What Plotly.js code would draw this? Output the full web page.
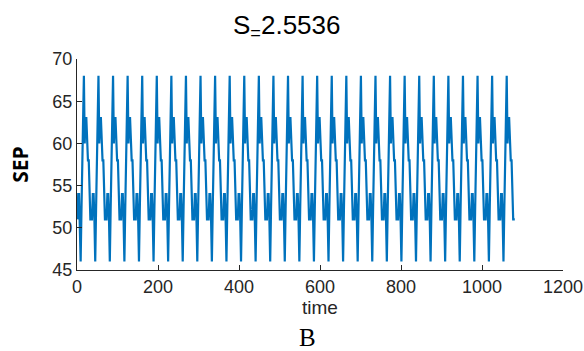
<!DOCTYPE html>
<html>
<head>
<meta charset="utf-8">
<script src="https://cdn.plot.ly/plotly-3.0.1.min.js"></script>
<style>
  html, body { margin: 0; padding: 0; background: #ffffff; }
  #chart { width: 584px; height: 351px; }
</style>
</head>
<body>
<div id="chart"></div>
<script>
// ---- data ----
const titleText = 'S<sub>=</sub>2.5536';
const xLabel = 'time';
const yLabel = 'SEP';
const panelLabel = 'B';
const xTicks = [0, 200, 400, 600, 800, 1000, 1200];
const yTicks = [45, 50, 55, 60, 65, 70];
const timeStart = 1;
const timeStep = 2;
const sepValues = [
  51, 54, 54, 51,
  46, 52, 57, 63, 68, 60, 63, 63, 60, 58, 58, 52, 51, 51, 51, 54, 54, 51,
  46, 52, 57, 63, 68, 60, 63, 63, 60, 58, 58, 52, 51, 51, 51, 54, 54, 51,
  46, 52, 57, 63, 68, 60, 63, 63, 60, 58, 58, 52, 51, 51, 51, 54, 54, 51,
  46, 52, 57, 63, 68, 60, 63, 63, 60, 58, 58, 52, 51, 51, 51, 54, 54, 51,
  46, 52, 57, 63, 68, 60, 63, 63, 60, 58, 58, 52, 51, 51, 51, 54, 54, 51,
  46, 52, 57, 63, 68, 60, 63, 63, 60, 58, 58, 52, 51, 51, 51, 54, 54, 51,
  46, 52, 57, 63, 68, 60, 63, 63, 60, 58, 58, 52, 51, 51, 51, 54, 54, 51,
  46, 52, 57, 63, 68, 60, 63, 63, 60, 58, 58, 52, 51, 51, 51, 54, 54, 51,
  46, 52, 57, 63, 68, 60, 63, 63, 60, 58, 58, 52, 51, 51, 51, 54, 54, 51,
  46, 52, 57, 63, 68, 60, 63, 63, 60, 58, 58, 52, 51, 51, 51, 54, 54, 51,
  46, 52, 57, 63, 68, 60, 63, 63, 60, 58, 58, 52, 51, 51, 51, 54, 54, 51,
  46, 52, 57, 63, 68, 60, 63, 63, 60, 58, 58, 52, 51, 51, 51, 54, 54, 51,
  46, 52, 57, 63, 68, 60, 63, 63, 60, 58, 58, 52, 51, 51, 51, 54, 54, 51,
  46, 52, 57, 63, 68, 60, 63, 63, 60, 58, 58, 52, 51, 51, 51, 54, 54, 51,
  46, 52, 57, 63, 68, 60, 63, 63, 60, 58, 58, 52, 51, 51, 51, 54, 54, 51,
  46, 52, 57, 63, 68, 60, 63, 63, 60, 58, 58, 52, 51, 51, 51, 54, 54, 51,
  46, 52, 57, 63, 68, 60, 63, 63, 60, 58, 58, 52, 51, 51, 51, 54, 54, 51,
  46, 52, 57, 63, 68, 60, 63, 63, 60, 58, 58, 52, 51, 51, 51, 54, 54, 51,
  46, 52, 57, 63, 68, 60, 63, 63, 60, 58, 58, 52, 51, 51, 51, 54, 54, 51,
  46, 52, 57, 63, 68, 60, 63, 63, 60, 58, 58, 52, 51, 51, 51, 54, 54, 51,
  46, 52, 57, 63, 68, 60, 63, 63, 60, 58, 58, 52, 51, 51, 51, 54, 54, 51,
  46, 52, 57, 63, 68, 60, 63, 63, 60, 58, 58, 52, 51, 51, 51, 54, 54, 51,
  46, 52, 57, 63, 68, 60, 63, 63, 60, 58, 58, 52, 51, 51, 51, 54, 54, 51,
  46, 52, 57, 63, 68, 60, 63, 63, 60, 58, 58, 52, 51, 51, 51, 54, 54, 51,
  46, 52, 57, 63, 68, 60, 63, 63, 60, 58, 58, 52, 51, 51, 51, 54, 54, 51,
  46, 52, 57, 63, 68, 60, 63, 63, 60, 58, 58, 52, 51, 51, 51, 54, 54, 51,
  46, 52, 57, 63, 68, 60, 63, 63, 60, 58, 58, 52, 51, 51, 51, 54, 54, 51,
  46, 52, 57, 63, 68, 60, 63, 63, 60, 58, 58, 52, 51, 51, 51, 54, 54, 51,
  46, 52, 57, 63, 68, 60, 63, 63, 60, 58, 58, 52, 51, 51, 51, 54, 54, 51,
  46, 52, 57, 63, 68, 60, 63, 63, 60, 58, 58, 52, 51, 51, 51
];
const timeValues = sepValues.map((_, i) => timeStart + timeStep * i);

// ---- styling ----
const axisColor = '#262626';
const lineColor = '#0072BD';
const sansFont = 'Liberation Sans, Arial, Helvetica, sans-serif';

const trace = {
  x: timeValues,
  y: sepValues,
  type: 'scatter',
  mode: 'lines',
  line: { color: lineColor, width: 2.2 },
  hoverinfo: 'skip'
};

const axisCommon = {
  showgrid: false,
  zeroline: false,
  showline: true,
  linecolor: axisColor,
  linewidth: 1,
  ticks: 'inside',
  ticklen: 5,
  tickwidth: 1,
  tickcolor: axisColor,
  tickfont: { family: sansFont, size: 18, color: axisColor },
  mirror: false,
  fixedrange: true
};

const layout = {
  width: 584,
  height: 351,
  margin: { l: 77, r: 21, t: 59, b: 81, pad: 0 },
  paper_bgcolor: '#ffffff',
  plot_bgcolor: '#ffffff',
  showlegend: false,
  title: {
    text: titleText,
    font: { family: sansFont, size: 26, color: '#000000' },
    x: 0.491, xref: 'container', xanchor: 'center',
    y: 0.93, yref: 'container', yanchor: 'middle'
  },
  xaxis: Object.assign({}, axisCommon, {
    range: [0, 1200],
    tickmode: 'array',
    tickvals: xTicks,
    ticktext: xTicks.map(String),
    title: { text: xLabel, font: { family: sansFont, size: 19, color: axisColor }, standoff: 5 }
  }),
  yaxis: Object.assign({}, axisCommon, {
    range: [45, 70],
    tickmode: 'array',
    tickvals: yTicks,
    ticktext: yTicks.map(String),
    title: { text: '<b>' + yLabel + '</b>', font: { family: 'Open Sans, Liberation Sans, sans-serif', size: 21, color: '#000000' }, standoff: 18 }
  }),
  annotations: [{
    text: panelLabel,
    xref: 'paper', yref: 'paper',
    x: 0.475, y: -0.32,
    xanchor: 'center', yanchor: 'middle',
    showarrow: false,
    font: { family: 'Liberation Serif, Times New Roman, serif', size: 25, color: '#000000' }
  }]
};

Plotly.newPlot('chart', [trace], layout, { displayModeBar: false, staticPlot: true });
</script>
</body>
</html>
